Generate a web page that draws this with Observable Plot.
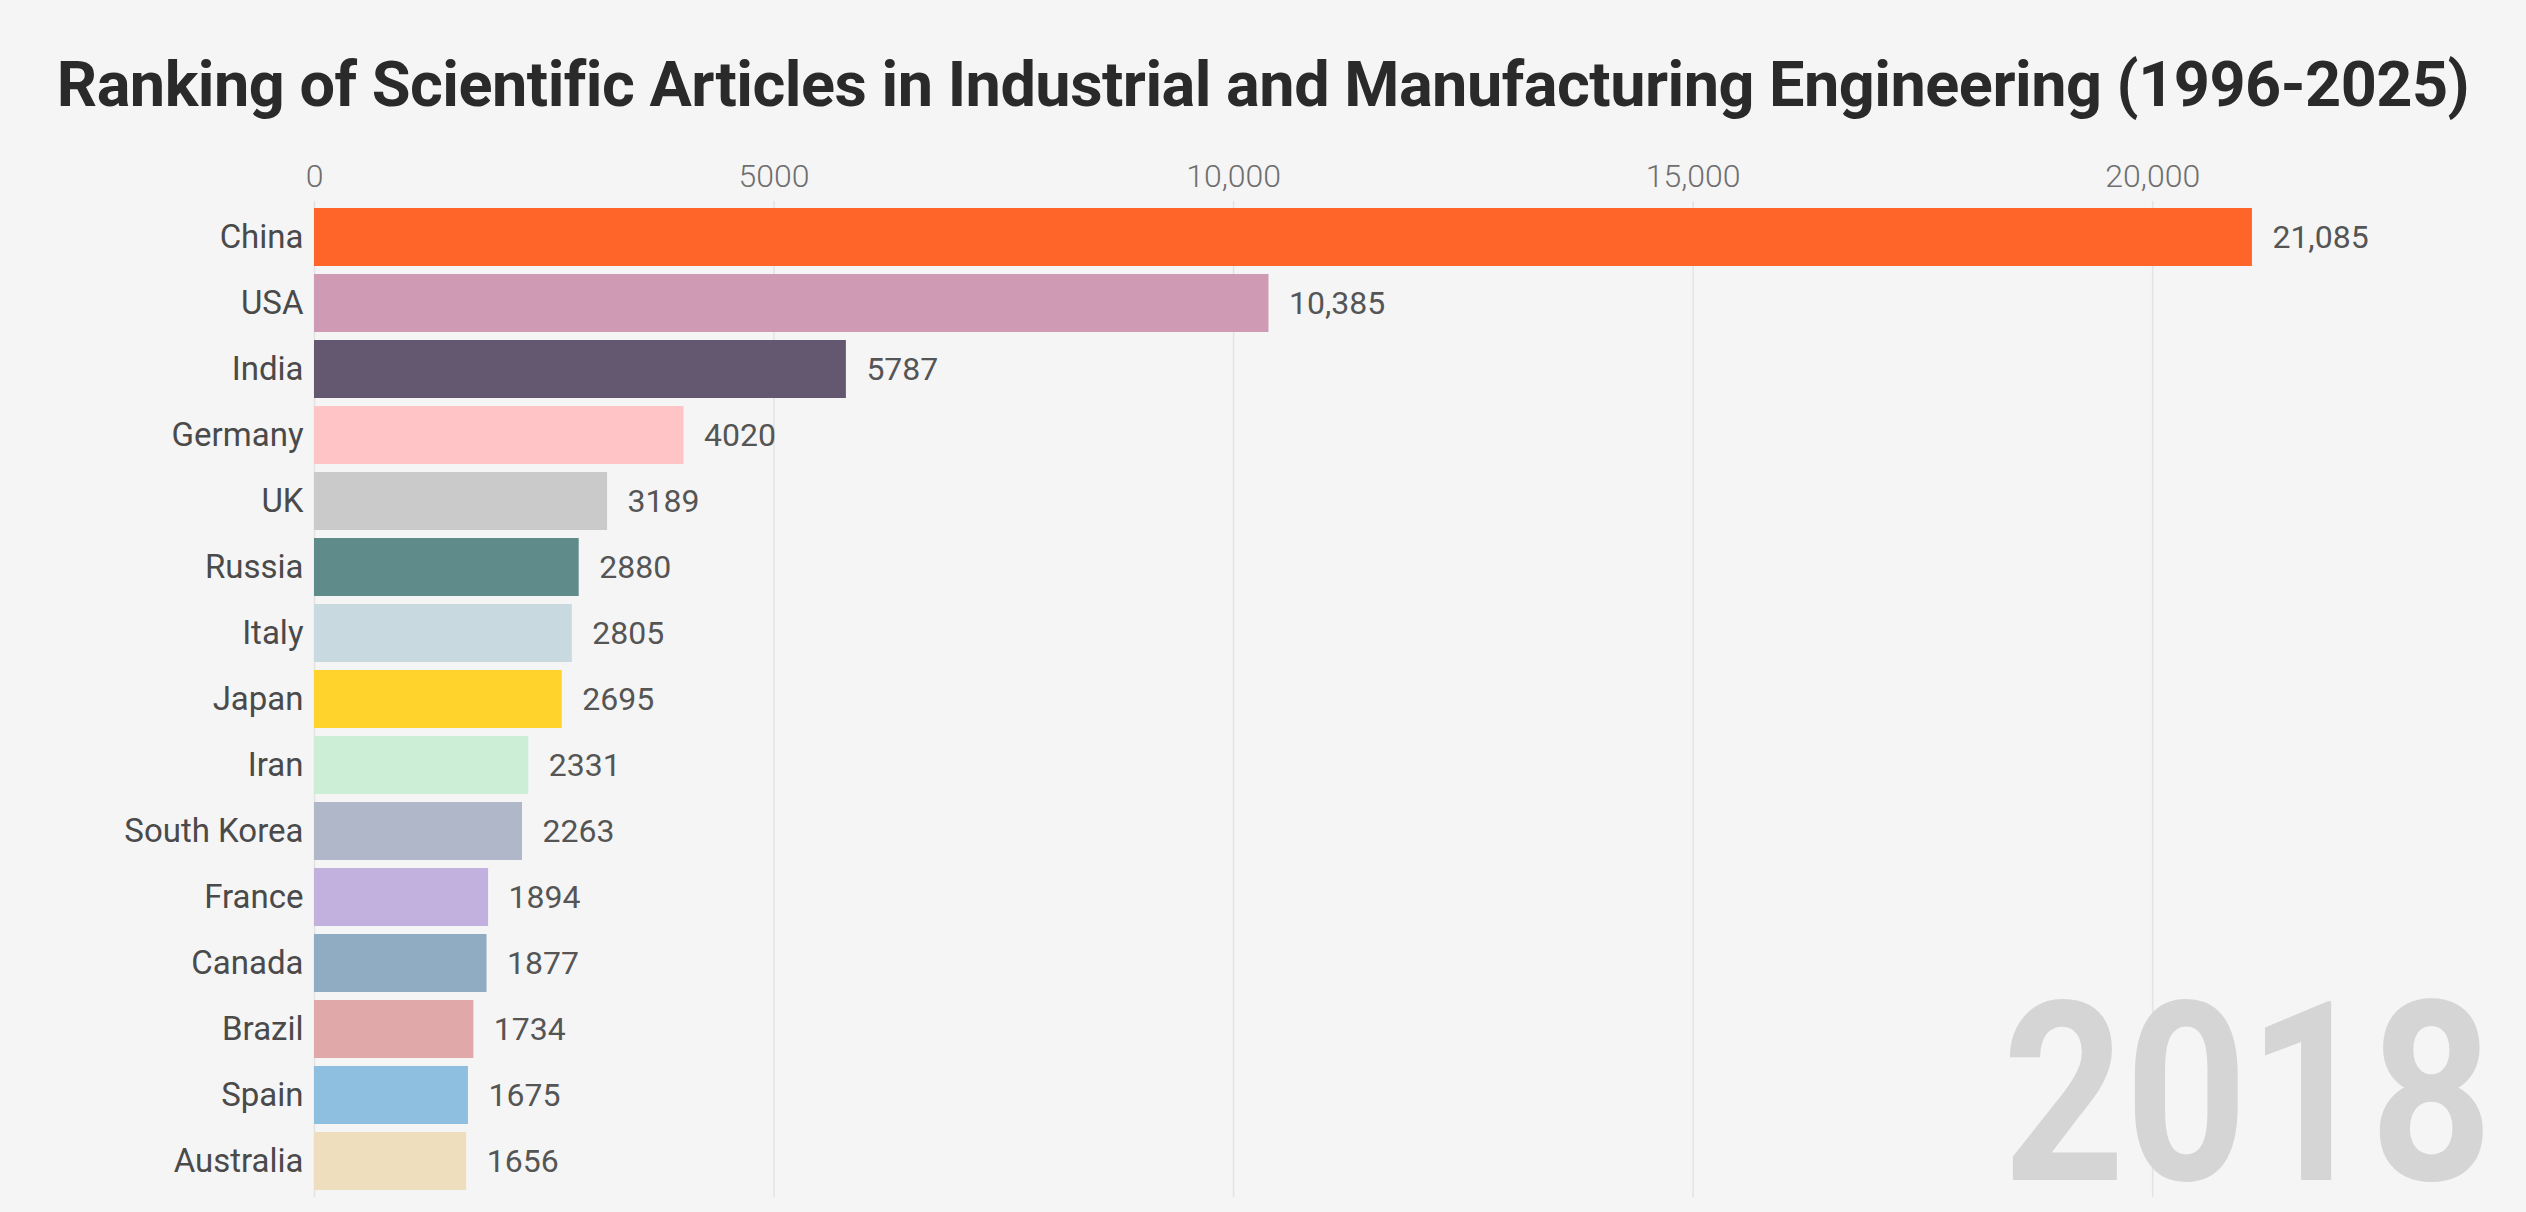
<!DOCTYPE html>
<html>
<head>
<meta charset="utf-8">
<script src="https://cdn.jsdelivr.net/npm/d3@7"></script>
<script src="https://cdn.jsdelivr.net/npm/@observablehq/plot@0.6"></script>
<style>
  html, body { margin: 0; padding: 0; background: #f5f5f5; }
  body { width: 2526px; height: 1212px; overflow: hidden; font-family: Roboto, "Noto Sans", sans-serif; }
  #title {
    height: 130px; line-height: 170px; text-align: center;
    font-size: 63px; font-weight: 700; color: #2a2a2a; white-space: nowrap;
    letter-spacing: -0.5px;
  }
  #chart svg { display: block; }
</style>
</head>
<body>
<div id="title">Ranking of Scientific Articles in Industrial and Manufacturing Engineering (1996-2025)</div>
<div id="chart"></div>
<script>
// Articles published per country, cumulative ranking for the shown year
const year = 2018;
const countries = ["China", "USA", "India", "Germany", "UK", "Russia", "Italy", "Japan", "Iran", "South Korea", "France", "Canada", "Brazil", "Spain", "Australia"];
const articles = [21085, 10385, 5787, 4020, 3189, 2880, 2805, 2695, 2331, 2263, 1894, 1877, 1734, 1675, 1656];
const colors = ["#ff6529", "#cf9ab4", "#645770", "#ffc4c6", "#cacaca", "#5f8c8a", "#c8dadf", "#ffd22c", "#cdeed6", "#b0b7c8", "#c2b0de", "#90acc2", "#e0a8a8", "#8fbfe0", "#efdebe"];
const xTicks = [0, 5000, 10000, 15000, 20000];

const data = countries.map((country, i) => ({country, value: articles[i]}));
const fmt = d => d >= 10000 ? d3.format(",")(d) : String(d);

const chart = Plot.plot({
  width: 2526,
  height: 1082,
  marginLeft: 314,
  marginRight: 190,
  marginTop: 71,
  marginBottom: 15,
  style: {background: "#f5f5f5", fontFamily: "Roboto, sans-serif", color: "#444"},
  x: {domain: [0, 22000], nice: false},
  y: {domain: countries, paddingInner: 0.12, paddingOuter: 0.1},
  color: {domain: countries, range: colors},
  marks: [
    Plot.gridX(xTicks, {stroke: "#e3e3e3", strokeOpacity: 1, strokeWidth: 1.5}),
    Plot.text([year], {
      frameAnchor: "bottom-right", text: d => String(d),
      fontSize: 250, fontWeight: 700, fill: "#d5d5d5",
      textAnchor: "end", lineAnchor: "bottom", dx: 156, dy: -18
    }),
    Plot.axisX(xTicks, {
      anchor: "top", tickSize: 0, tickPadding: 15, tickFormat: fmt,
      fontSize: 32, fontWeight: 300, fill: "#6f6f6f", label: null
    }),
    Plot.axisY({
      tickSize: 0, tickPadding: 11, fontSize: 33, fill: "#4a4a4a", label: null
    }),
    Plot.barX(data, {x: "value", y: "country", fill: "country"}),
    Plot.text(data, {
      x: "value", y: "country", text: d => fmt(d.value),
      textAnchor: "start", dx: 20, fontSize: 32, fill: "#555"
    })
  ]
});

// Narrow the big year numeral to a condensed proportion
d3.select(chart).selectAll("text")
  .filter(function() { return this.textContent === String(year); })
  .attr("textLength", 490)
  .attr("lengthAdjust", "spacingAndGlyphs");

document.getElementById("chart").append(chart);
</script>
</body>
</html>
